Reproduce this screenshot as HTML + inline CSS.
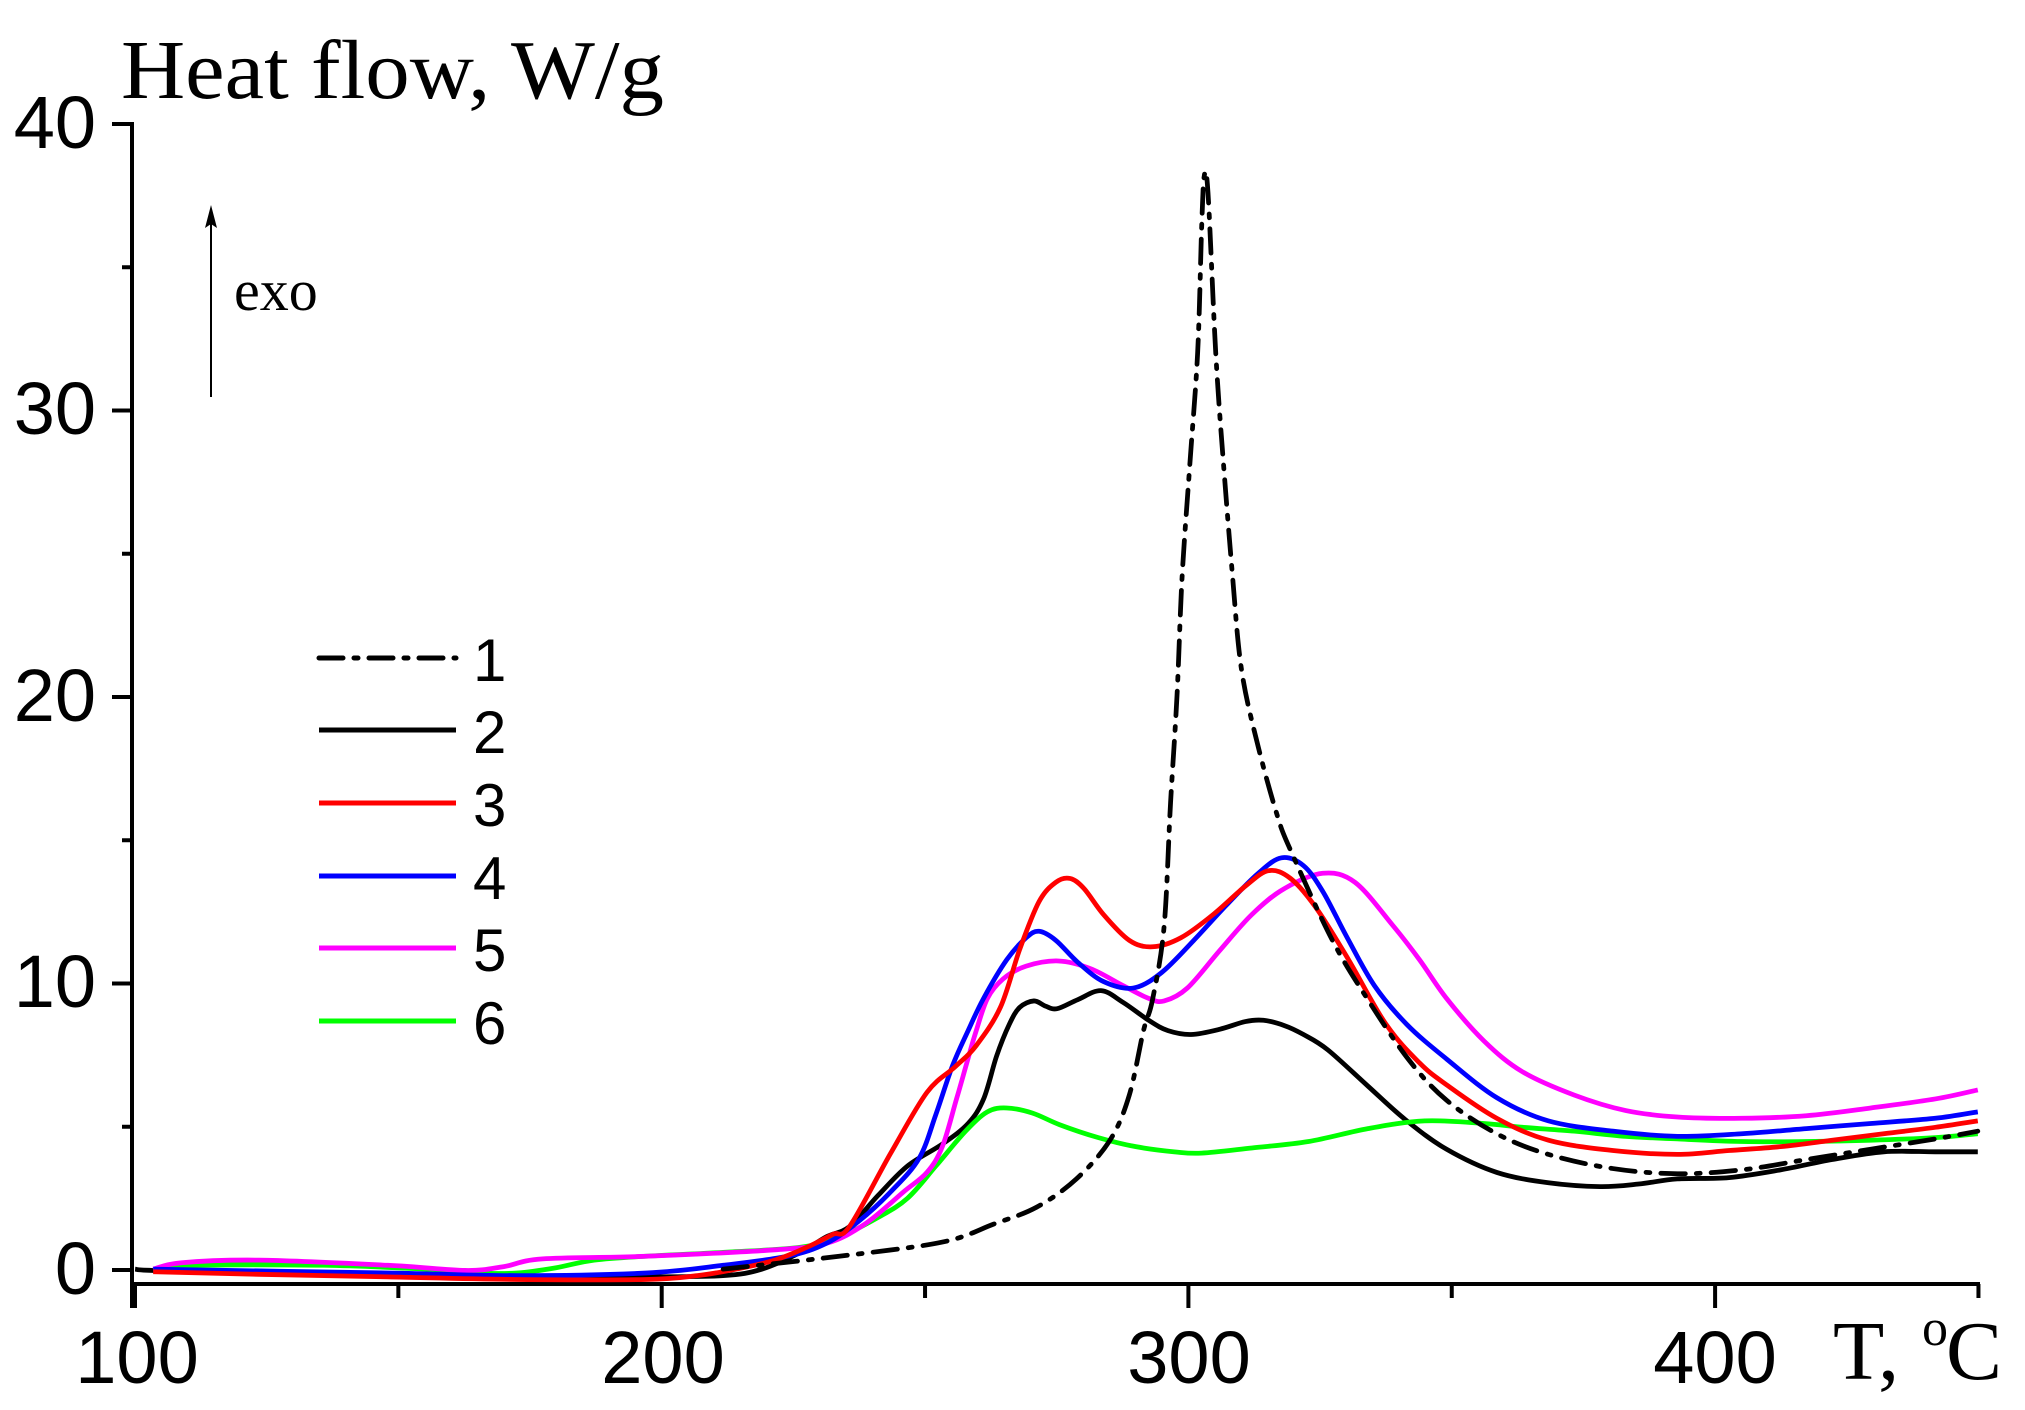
<!DOCTYPE html>
<html><head><meta charset="utf-8">
<style>
html,body{margin:0;padding:0;background:#fff;}
svg{display:block;}
</style></head>
<body>
<svg id="s" width="2025" height="1410" viewBox="0 0 2025 1410" xmlns="http://www.w3.org/2000/svg">
<rect width="2025" height="1410" fill="#fff"/>
<g id="axes" stroke="#000" stroke-width="4" fill="none" stroke-linecap="square">
<line x1="132" y1="124" x2="132" y2="1306"/>
<line x1="132" y1="1284" x2="1978" y2="1284"/>
</g>
<g id="ticks" stroke="#000" stroke-width="4"></g>
<g font-family="Liberation Sans, sans-serif" font-size="74" fill="#000" text-anchor="end">
<text x="96" y="148">40</text>
<text x="96" y="434">30</text>
<text x="96" y="721">20</text>
<text x="96" y="1007">10</text>
<text x="96" y="1294">0</text>
</g>
<g font-family="Liberation Sans, sans-serif" font-size="74" fill="#000" text-anchor="middle">
<text x="137" y="1383">100</text>
<text x="663" y="1383">200</text>
<text x="1189" y="1383">300</text>
<text x="1715" y="1383">400</text>
</g>
<text x="121" y="98" font-family="Liberation Serif, serif" font-size="84" textLength="543" lengthAdjust="spacingAndGlyphs">Heat flow, W/g</text>
<text x="1833" y="1379" font-family="Liberation Serif, serif" font-size="84">T,</text>
<text x="1922" y="1345" font-family="Liberation Serif, serif" font-size="52">o</text>
<text x="1946" y="1379" font-family="Liberation Serif, serif" font-size="84">C</text>
<line x1="211" y1="215" x2="211" y2="397" stroke="#000" stroke-width="2"/>
<polygon points="211,205 205,228 211,224 217,228" fill="#000"/>
<text x="234" y="310" font-family="Liberation Serif, serif" font-size="58">exo</text>
<g stroke-width="5" fill="none">
<line x1="319" y1="658" x2="456" y2="658" stroke="#000" stroke-dasharray="24,11,4,11" stroke-linecap="round"/>
<line x1="319" y1="730" x2="456" y2="730" stroke="#000"/>
<line x1="319" y1="803" x2="456" y2="803" stroke="#f00"/>
<line x1="319" y1="876" x2="456" y2="876" stroke="#00f"/>
<line x1="319" y1="948" x2="456" y2="948" stroke="#f0f"/>
<line x1="319" y1="1021" x2="456" y2="1021" stroke="#0f0"/>
</g>
<g font-family="Liberation Sans, sans-serif" font-size="60" fill="#000">
<text x="473" y="681">1</text>
<text x="473" y="753">2</text>
<text x="473" y="826">3</text>
<text x="473" y="899">4</text>
<text x="473" y="971">5</text>
<text x="473" y="1044">6</text>
</g>
<g id="curves" transform="translate(1,-1) scale(1.2895)" fill="none" stroke-width="3.7" stroke-linejoin="round"></g>
</svg>
<script>
(function(){
var NS="http://www.w3.org/2000/svg";
var t=document.getElementById('ticks');
function L(x1,y1,x2,y2){var l=document.createElementNS(NS,'line');l.setAttribute('x1',x1);l.setAttribute('y1',y1);l.setAttribute('x2',x2);l.setAttribute('y2',y2);t.appendChild(l);}
for(var i=0;i<=8;i++){var y=1270-i*5*28.65;L(i%2==0?112:122,y,132,y);}
for(var i=0;i<=7;i++){var x=135+i*50*5.267;L(x,1284,x,i%2==0?1308:1298);}
function path(p){
 var d="M"+p[0][0]+","+p[0][1];
 for(var i=0;i<p.length-1;i++){
  var p0=p[i>0?i-1:i],p1=p[i],p2=p[i+1],p3=p[i+2<p.length?i+2:i+1];
  var c1x=p1[0]+(p2[0]-p0[0])/6,c1y=p1[1]+(p2[1]-p0[1])/6;
  var c2x=p2[0]-(p3[0]-p1[0])/6,c2y=p2[1]-(p3[1]-p1[1])/6;
  d+=" C"+c1x.toFixed(1)+","+c1y.toFixed(1)+" "+c2x.toFixed(1)+","+c2y.toFixed(1)+" "+p2[0]+","+p2[1];
 }
 return d;
}
var C=[
["#000","",[[104,985],[118,986],[200,988],[300,990],[400,991],[500,991],[560,990],[590,985],[620,972],[640,960],[658,952],[680,928],[703,905],[730,888],[750,872],[762,853],[772,820],[782,795],[790,782],[801,777],[810,781],[819,783],[835,776],[853,769],[870,778],[890,792],[905,800],[923,803],[945,799],[965,793],[979,792],[995,796],[1010,803],[1029,815],[1060,843],[1089,869],[1121,892],[1160,910],[1200,918],[1240,921],[1270,919],[1300,915],[1340,914],[1380,908],[1420,900],[1460,894],[1500,894],[1533,894]]],
["#00ff00","",[[118,985],[150,982],[250,982],[330,985],[370,988],[400,988],[430,984],[460,978],[500,975],[560,972],[620,968],[650,960],[680,945],[703,930],[725,905],[748,878],[765,863],[780,860],[800,864],[821,873],[851,883],[880,890],[910,894],[931,895],[970,891],[1014,886],[1060,876],[1104,870],[1150,872],[1180,875],[1220,878],[1260,882],[1300,884],[1350,886],[1400,886],[1450,885],[1500,883],[1533,880]]],
["#ff00ff","",[[118,985],[140,980],[200,978],[300,982],[360,986],[390,983],[420,977],[500,975],[600,970],[640,965],[670,950],[700,925],[718,910],[730,890],[741,853],[749,825],[756,801],[765,775],[777,760],[795,750],[820,746],[845,752],[870,765],[890,775],[902,777],[920,767],[945,738],[970,710],[995,690],[1025,678],[1050,685],[1079,718],[1100,745],[1121,775],[1150,808],[1180,832],[1220,850],[1260,862],[1300,867],[1350,868],[1400,866],[1450,860],[1500,853],[1533,846]]],
["#0000ff","",[[118,985],[300,988],[400,990],[500,988],[560,982],[610,975],[640,965],[665,948],[690,925],[712,899],[725,865],[738,827],[750,800],[762,775],[780,745],[795,728],[805,723],[818,730],[835,747],[855,762],[878,767],[900,755],[925,730],[950,703],[975,678],[993,666],[1010,672],[1025,692],[1044,728],[1065,765],[1090,795],[1121,822],[1160,852],[1200,870],[1250,878],[1300,882],[1350,880],[1400,876],[1450,872],[1500,868],[1533,863]]],
["#ff0000","",[[118,987],[200,989],[300,991],[400,993],[500,993],[540,990],[570,985],[600,978],[625,968],[645,958],[658,952],[690,895],[718,848],[740,828],[756,812],[775,782],[790,737],[805,700],[818,685],[829,682],[840,690],[855,710],[875,730],[893,735],[915,728],[940,710],[965,688],[983,676],[1000,682],[1020,705],[1045,745],[1074,795],[1100,825],[1121,842],[1160,868],[1200,885],[1250,893],[1300,896],[1340,893],[1380,890],[1420,885],[1460,880],[1500,875],[1533,870]]],
["#000","19,8.5,3,8.5",[[560,985],[650,975],[730,964],[770,950],[803,937],[834,915],[860,885],[875,850],[886,800],[893,776],[902,719],[907,623],[912,540],[916,447],[922,360],[928,274],[931,180],[933,138],[936,150],[942,274],[948,360],[955,447],[962,520],[975,580],[990,634],[1000,660],[1032,729],[1060,776],[1092,823],[1121,854],[1160,880],[1200,896],[1250,907],[1300,911],[1350,908],[1400,900],[1450,892],[1500,884],[1533,878]]]
];
var g=document.getElementById('curves');
C.forEach(function(c){var p=document.createElementNS(NS,'path');p.setAttribute('d',path(c[2]));p.setAttribute('stroke',c[0]);if(c[1]){p.setAttribute('stroke-dasharray',c[1]);p.setAttribute('stroke-linecap','round');}g.appendChild(p);});
})();
</script>
</body></html>
